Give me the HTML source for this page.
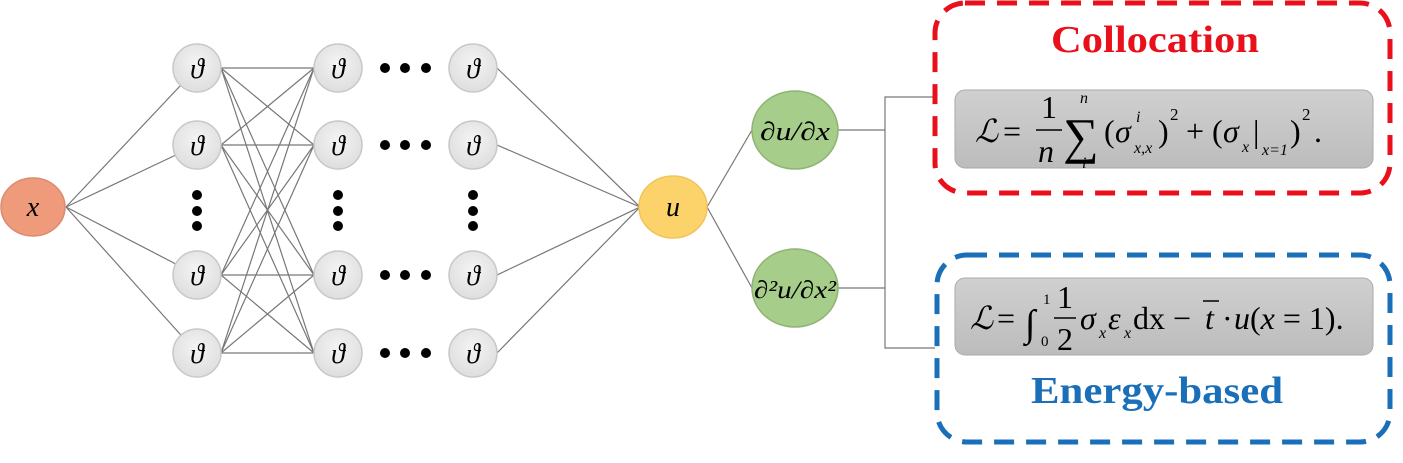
<!DOCTYPE html>
<html><head><style>
body{margin:0;width:1403px;height:458px;background:#fff;overflow:hidden;font-family:"Liberation Serif",serif}
</style></head><body>
<svg width="1403" height="458" viewBox="0 0 1403 458" xmlns="http://www.w3.org/2000/svg" font-family="Liberation Serif, serif">
<defs>
<radialGradient id="g" cx="50%" cy="40%" r="60%"><stop offset="0" stop-color="#f4f4f4"/><stop offset="1" stop-color="#dedede"/></radialGradient>
<linearGradient id="box" x1="0" y1="0" x2="0" y2="1"><stop offset="0" stop-color="#d0d0d0"/><stop offset="1" stop-color="#bcbcbc"/></linearGradient>
</defs>
<g stroke="#777" stroke-width="1.2" fill="none">
<line x1="66" y1="207" x2="197" y2="68"/><line x1="66" y1="207" x2="197" y2="145"/>
<line x1="66" y1="207" x2="197" y2="275"/><line x1="66" y1="207" x2="197" y2="353"/>
<line x1="221" y1="68" x2="314" y2="68"/><line x1="221" y1="68" x2="314" y2="145"/><line x1="221" y1="68" x2="314" y2="275"/><line x1="221" y1="68" x2="314" y2="353"/>
<line x1="221" y1="145" x2="314" y2="68"/><line x1="221" y1="145" x2="314" y2="145"/><line x1="221" y1="145" x2="314" y2="275"/><line x1="221" y1="145" x2="314" y2="353"/>
<line x1="221" y1="275" x2="314" y2="68"/><line x1="221" y1="275" x2="314" y2="145"/><line x1="221" y1="275" x2="314" y2="275"/><line x1="221" y1="275" x2="314" y2="353"/>
<line x1="221" y1="353" x2="314" y2="68"/><line x1="221" y1="353" x2="314" y2="145"/><line x1="221" y1="353" x2="314" y2="275"/><line x1="221" y1="353" x2="314" y2="353"/>
<line x1="497" y1="68" x2="640" y2="207"/><line x1="497" y1="145" x2="640" y2="207"/>
<line x1="497" y1="275" x2="640" y2="207"/><line x1="497" y1="353" x2="640" y2="207"/>
<line x1="707" y1="207" x2="752" y2="130"/><line x1="707" y1="207" x2="752" y2="288"/>
<polyline points="838,130 885,130"/><polyline points="838,288 885,288"/>
<polyline points="935,97 885,97 885,348 935,348"/>
</g>
<ellipse cx="33" cy="207" rx="32" ry="29" fill="#f09a7c" stroke="#d98a70" stroke-width="1.5"/>
<text x="33" y="216" font-size="28" font-style="italic" text-anchor="middle">x</text>
<g fill="url(#g)" stroke="#c8c8c8" stroke-width="1.5">
<circle cx="197" cy="68" r="24"/><circle cx="197" cy="145" r="24"/><circle cx="197" cy="275" r="24"/><circle cx="197" cy="353" r="24"/>
<circle cx="338" cy="68" r="24"/><circle cx="338" cy="145" r="24"/><circle cx="338" cy="275" r="24"/><circle cx="338" cy="353" r="24"/>
<circle cx="473" cy="68" r="24"/><circle cx="473" cy="145" r="24"/><circle cx="473" cy="275" r="24"/><circle cx="473" cy="353" r="24"/>
</g>
<g font-size="28" font-style="italic" text-anchor="middle">
<text x="197" y="78">ϑ</text><text x="197" y="155">ϑ</text><text x="197" y="285">ϑ</text><text x="197" y="363">ϑ</text>
<text x="338" y="78">ϑ</text><text x="338" y="155">ϑ</text><text x="338" y="285">ϑ</text><text x="338" y="363">ϑ</text>
<text x="473" y="78">ϑ</text><text x="473" y="155">ϑ</text><text x="473" y="285">ϑ</text><text x="473" y="363">ϑ</text>
</g>
<g fill="#000">
<circle cx="197" cy="195" r="5"/><circle cx="197" cy="211" r="5"/><circle cx="197" cy="226" r="5"/>
<circle cx="338" cy="195" r="5"/><circle cx="338" cy="211" r="5"/><circle cx="338" cy="226" r="5"/>
<circle cx="473" cy="195" r="5"/><circle cx="473" cy="211" r="5"/><circle cx="473" cy="226" r="5"/>
<circle cx="385" cy="68" r="5"/><circle cx="405" cy="68" r="5"/><circle cx="426" cy="68" r="5"/>
<circle cx="385" cy="145" r="5"/><circle cx="405" cy="145" r="5"/><circle cx="426" cy="145" r="5"/>
<circle cx="385" cy="275" r="5"/><circle cx="405" cy="275" r="5"/><circle cx="426" cy="275" r="5"/>
<circle cx="385" cy="353" r="5"/><circle cx="405" cy="353" r="5"/><circle cx="426" cy="353" r="5"/>
</g>
<ellipse cx="673" cy="207" rx="34" ry="31" fill="#fbd36a" stroke="#f1c45a" stroke-width="1.5"/>
<text x="673" y="216" font-size="28" font-style="italic" text-anchor="middle">u</text>
<ellipse cx="795" cy="130" rx="43" ry="39" fill="#a6cd8a" stroke="#8fb474" stroke-width="1.5"/>
<text x="795" y="140" font-size="26" font-style="italic" text-anchor="middle" textLength="70" lengthAdjust="spacingAndGlyphs">∂u/∂x</text>
<ellipse cx="795" cy="288" rx="43" ry="39" fill="#a6cd8a" stroke="#8fb474" stroke-width="1.5"/>
<text x="795" y="298" font-size="25" font-style="italic" text-anchor="middle" textLength="82" lengthAdjust="spacingAndGlyphs">∂²u/∂x²</text>
<rect x="935" y="3" width="455" height="190" rx="30" fill="none" stroke="#e8101a" stroke-width="5" stroke-dasharray="20,12"/>
<text x="1155" y="52" font-size="38" font-weight="bold" fill="#e8101a" text-anchor="middle" textLength="208" lengthAdjust="spacingAndGlyphs">Collocation</text>
<rect x="955" y="90" width="418" height="78" rx="10" fill="url(#box)" stroke="#aaa"/>
<g font-size="32">
<text x="975" y="142" font-style="italic">ℒ</text>
<text x="1003" y="142">=</text>
<text x="1041" y="118">1</text>
<line x1="1036" y1="130" x2="1062" y2="130" stroke="#000" stroke-width="1.5"/>
<text x="1038" y="162" font-style="italic">n</text>
<text x="1063" y="153" font-size="50">∑</text>
<text x="1080" y="103" font-size="16" font-style="italic">n</text>
<text x="1082" y="168" font-size="16" font-style="italic">i</text>
<text x="1104" y="142">(</text>
<text x="1115" y="142" font-style="italic">σ</text>
<text x="1136" y="122" font-size="16" font-style="italic">i</text>
<text x="1134" y="153" font-size="16" font-style="italic">x,x</text>
<text x="1158" y="142">)</text>
<text x="1170" y="120" font-size="17">2</text>
<text x="1186" y="142">+</text>
<text x="1212" y="142">(</text>
<text x="1223" y="142" font-style="italic">σ</text>
<text x="1242" y="152" font-size="16" font-style="italic">x</text>
<text x="1253" y="142">|</text>
<text x="1262" y="155" font-size="16" font-style="italic">x=1</text>
<text x="1290" y="142">)</text>
<text x="1302" y="120" font-size="17">2</text>
<text x="1314" y="142">.</text>
</g>
<rect x="937" y="255" width="453" height="187" rx="30" fill="none" stroke="#1a6fb8" stroke-width="5" stroke-dasharray="20,12"/>
<rect x="955" y="278" width="418" height="77" rx="10" fill="url(#box)" stroke="#aaa"/>
<g font-size="32">
<text x="970" y="329" font-style="italic">ℒ</text>
<text x="997" y="329">=</text>
<text x="1025" y="336" font-size="38">∫</text>
<text x="1043" y="304" font-size="15">1</text>
<text x="1041" y="346" font-size="15">0</text>
<text x="1057" y="308">1</text>
<line x1="1054" y1="318" x2="1076" y2="318" stroke="#000" stroke-width="1.5"/>
<text x="1057" y="350">2</text>
<text x="1080" y="329" font-style="italic">σ</text>
<text x="1099" y="338" font-size="16" font-style="italic">x</text>
<text x="1108" y="329" font-style="italic">ε</text>
<text x="1124" y="338" font-size="16" font-style="italic">x</text>
<text x="1133" y="329">dx −</text>
<text x="1205" y="329" font-style="italic">t</text>
<line x1="1203" y1="301" x2="1219" y2="301" stroke="#000" stroke-width="1.5"/>
<text x="1222" y="329">·</text>
<text x="1234" y="329"><tspan font-style="italic">u</tspan>(<tspan font-style="italic">x</tspan> = 1).</text>
</g>
<text x="1157" y="403" font-size="38" font-weight="bold" fill="#1a6fb8" text-anchor="middle" textLength="252" lengthAdjust="spacingAndGlyphs">Energy-based</text>
</svg>
</body></html>
